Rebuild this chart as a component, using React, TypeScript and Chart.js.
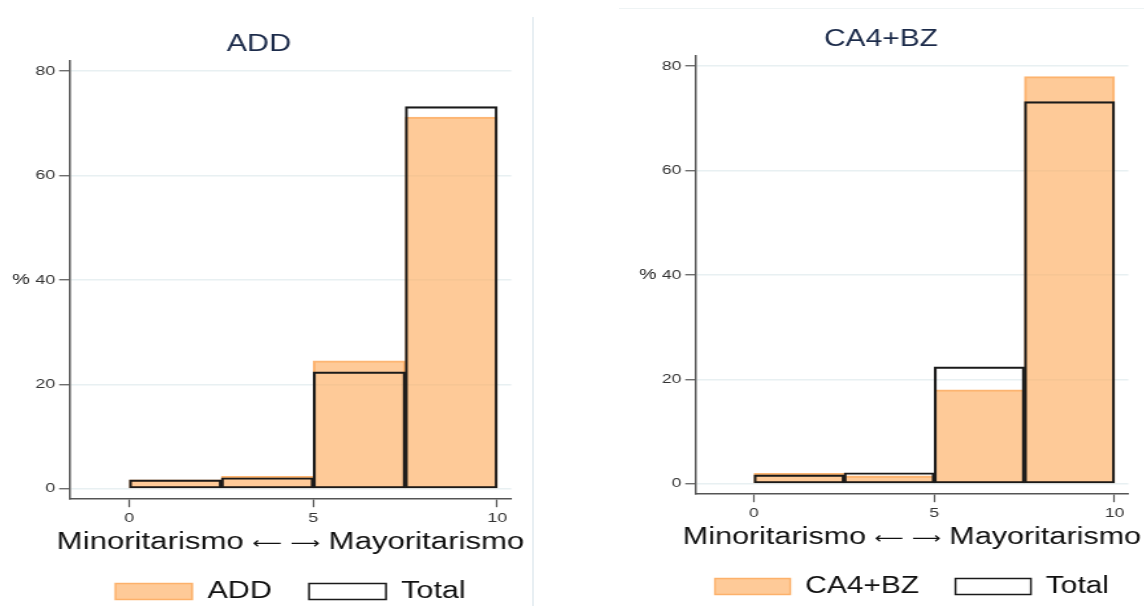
import React, { useEffect, useRef } from "react";
import { Chart, registerables } from "chart.js";

Chart.register(...registerables);

// ---- data ----
const binEdges = [0, 2.5, 5, 7.5, 10];
const totalPct = [1.7, 2.1, 22.4, 73.2];
const addPct = [1.7, 2.4, 24.5, 71.2];
const ca4bzPct = [2.0, 1.5, 18.0, 78.0];
const xTickValues = [0, 5, 10];
const yTickValues = [0, 20, 40, 60, 80];
const xAxisTitleLeft = "Minoritarismo";
const xAxisTitleArrows = ["\u27F5", "\u27F6"];
const xAxisTitleRight = "Mayoritarismo";
const yAxisTitle = "%";
const totalLabel = "Total";

const FONT = "'Liberation Sans', Arial, Helvetica, 'DejaVu Sans', sans-serif";
const ARROW_FONT = "'DejaVu Sans', sans-serif";

// "%" written upright to the left of the y axis
const pctLabelPlugin = {
  id: "pctLabel",
  afterDraw(chart: any, _args: any, opts: any) {
    const { ctx, chartArea } = chart;
    ctx.save();
    ctx.font = `15px ${FONT}`;
    ctx.fillStyle = "#222";
    ctx.textAlign = "center";
    ctx.textBaseline = "middle";
    ctx.fillText(opts.text, opts.x, (chartArea.top + chartArea.bottom) / 2);
    ctx.restore();
  },
};

// x-axis title, wider than the plot area (Chart.js would squeeze it), with arrow glyphs
const xTitlePlugin = {
  id: "xTitle",
  afterDraw(chart: any, _args: any, opts: any) {
    const { ctx } = chart;
    const sx = chart.scales.x;
    const cx = (sx.left + sx.right) / 2;
    const baseline = sx.top + opts.offset;
    ctx.save();
    ctx.fillStyle = "#111";
    ctx.textBaseline = "alphabetic";
    ctx.textAlign = "left";
    const wordFont = `${opts.size}px ${FONT}`;
    const arrowFont = `${opts.arrowSize}px ${ARROW_FONT}`;
    ctx.font = wordFont;
    const wL = ctx.measureText(opts.left).width;
    const wR = ctx.measureText(opts.right).width;
    ctx.font = arrowFont;
    const wA = opts.arrows.map((a: string) => ctx.measureText(a).width);
    const gap = opts.gap;
    const total = wL + wR + wA[0] + wA[1] + 3 * gap;
    let x = cx - total / 2;
    ctx.font = wordFont;
    ctx.fillText(opts.left, x, baseline);
    x += wL + gap;
    ctx.font = arrowFont;
    ctx.fillText(opts.arrows[0], x, baseline - opts.arrowLift);
    x += wA[0] + gap;
    ctx.fillText(opts.arrows[1], x, baseline - opts.arrowLift);
    x += wA[1] + gap;
    ctx.font = wordFont;
    ctx.fillText(opts.right, x, baseline);
    ctx.restore();
  },
};

// keep the legend on one row even though it is only as wide as the plot area
const legendNoWrapPlugin = {
  id: "legendNoWrap",
  beforeLayout(chart: any) {
    const lg = chart.legend;
    if (lg && !lg.__noWrap) {
      lg.__noWrap = true;
      const origFit = lg.fit;
      lg.fit = function () {
        const mw = this.maxWidth;
        this.maxWidth = mw + 300;
        origFit.call(this);
        this.maxWidth = mw;
        this.width = mw;
      };
      const origDraw = lg.draw;
      lg.draw = function () {
        const l = this.left;
        const r = this.right;
        this.left = l - 200;
        this.right = r + 200;
        origDraw.call(this);
        this.left = l;
        this.right = r;
      };
    }
  },
};

function makeConfig(groupLabel: string, groupPct: number[]): any {
  const centers = binEdges.slice(0, -1).map((e, i) => (e + binEdges[i + 1]) / 2);
  const barCommon = {
    borderSkipped: false,
    barPercentage: 1,
    categoryPercentage: 1,
    grouped: false,
  };
  return {
    type: "bar",
    data: {
      datasets: [
        {
          label: groupLabel,
          data: centers.map((x, i) => ({ x, y: groupPct[i] })),
          backgroundColor: "rgba(253,174,97,0.65)",
          borderColor: "rgba(251,164,82,0.8)",
          borderWidth: 1.4,
          order: 2,
          ...barCommon,
        },
        {
          label: totalLabel,
          data: centers.map((x, i) => ({ x, y: totalPct[i] })),
          backgroundColor: "rgba(255,255,255,0)",
          borderColor: "#1a1a1a",
          borderWidth: 1.5,
          order: 1,
          ...barCommon,
        },
      ],
    },
    options: {
      responsive: false,
      animation: false,
      events: [],
      layout: { padding: { left: 72, right: 12.5, top: 0, bottom: 0 } },
      plugins: {
        title: {
          display: true,
          text: groupLabel,
          color: "#1c2b4a",
          font: { family: FONT, size: 23, weight: "normal" },
          padding: { top: 26, bottom: 2 },
        },
        legend: {
          display: true,
          position: "bottom",
          fullSize: false,
          labels: {
            boxWidth: 58,
            boxHeight: 16,
            padding: 28,
            color: "#111",
            font: { family: FONT, size: 23 },
            sort: (a: any, b: any) => a.datasetIndex - b.datasetIndex,
          },
        },
        tooltip: { enabled: false },
        pctLabel: { text: yAxisTitle, x: 83 },
        xTitle: {
          left: xAxisTitleLeft,
          right: xAxisTitleRight,
          arrows: xAxisTitleArrows,
          size: 23.5,
          arrowSize: 15.5,
          arrowLift: 1.5,
          gap: 6.5,
          offset: 50,
        },
      },
      scales: {
        x: {
          type: "linear",
          min: -1.62,
          max: 10.38,
          offset: false,
          afterBuildTicks: (s: any) => {
            s.ticks = xTickValues.map((v) => ({ value: v }));
          },
          afterFit: (s: any) => {
            s.height = 52.8;
          },
          ticks: {
            padding: 3,
            color: "#333",
            font: { family: FONT, size: 13.5 },
            maxRotation: 0,
            autoSkip: false,
          },
          grid: {
            offset: false,
            drawOnChartArea: false,
            drawTicks: true,
            tickLength: 8,
            tickColor: "#555",
            tickWidth: 1.2,
          },
          border: { display: true, color: "#555", width: 1.5 },
          title: { display: false },
        },
        y: {
          type: "linear",
          min: -2,
          max: 82,
          afterBuildTicks: (s: any) => {
            s.ticks = yTickValues.map((v) => ({ value: v }));
          },
          afterFit: (s: any) => {
            s.width = 47.7;
          },
          ticks: {
            padding: 3,
            color: "#333",
            font: { family: FONT, size: 13.5 },
            autoSkip: false,
          },
          grid: {
            color: "#e8f0f2",
            lineWidth: 1.5,
            drawTicks: true,
            tickLength: 8,
            tickColor: "#555",
            tickWidth: 1.2,
          },
          border: { display: true, color: "#555", width: 1.5 },
        },
      },
    },
    plugins: [pctLabelPlugin, xTitlePlugin, legendNoWrapPlugin],
  };
}

const CANVAS_W = 465;
const CANVAS_H = 608;

function Panel(props: { label: string; pct: number[]; left: number; top: number; sx: number }) {
  const ref = useRef<HTMLCanvasElement>(null);
  useEffect(() => {
    const chart = new Chart(ref.current as HTMLCanvasElement, makeConfig(props.label, props.pct));
    return () => chart.destroy();
  }, []);
  return (
    <div
      style={{
        position: "absolute",
        left: props.left,
        top: props.top,
        width: CANVAS_W,
        height: CANVAS_H,
        transform: `scaleX(${props.sx})`,
        transformOrigin: "0 0",
      }}
    >
      <canvas ref={ref} width={CANVAS_W} height={CANVAS_H} />
    </div>
  );
}

export default function App() {
  return (
    <div
      style={{
        position: "fixed",
        left: 0,
        top: 0,
        width: 1144,
        height: 606,
        overflow: "hidden",
        background: "#fff",
      }}
    >
      <Panel label="ADD" pct={addPct} left={-89.2} top={4.5} sx={1.3264} />
      <Panel label="CA4+BZ" pct={ca4bzPct} left={540} top={0} sx={1.3} />
      <div style={{ position: "absolute", left: 531.5, top: 17, width: 2, height: 589, background: "#e8eff3" }} />
      <div style={{ position: "absolute", left: 619, top: 7.5, width: 525, height: 1.5, background: "#eef3f4" }} />
    </div>
  );
}
